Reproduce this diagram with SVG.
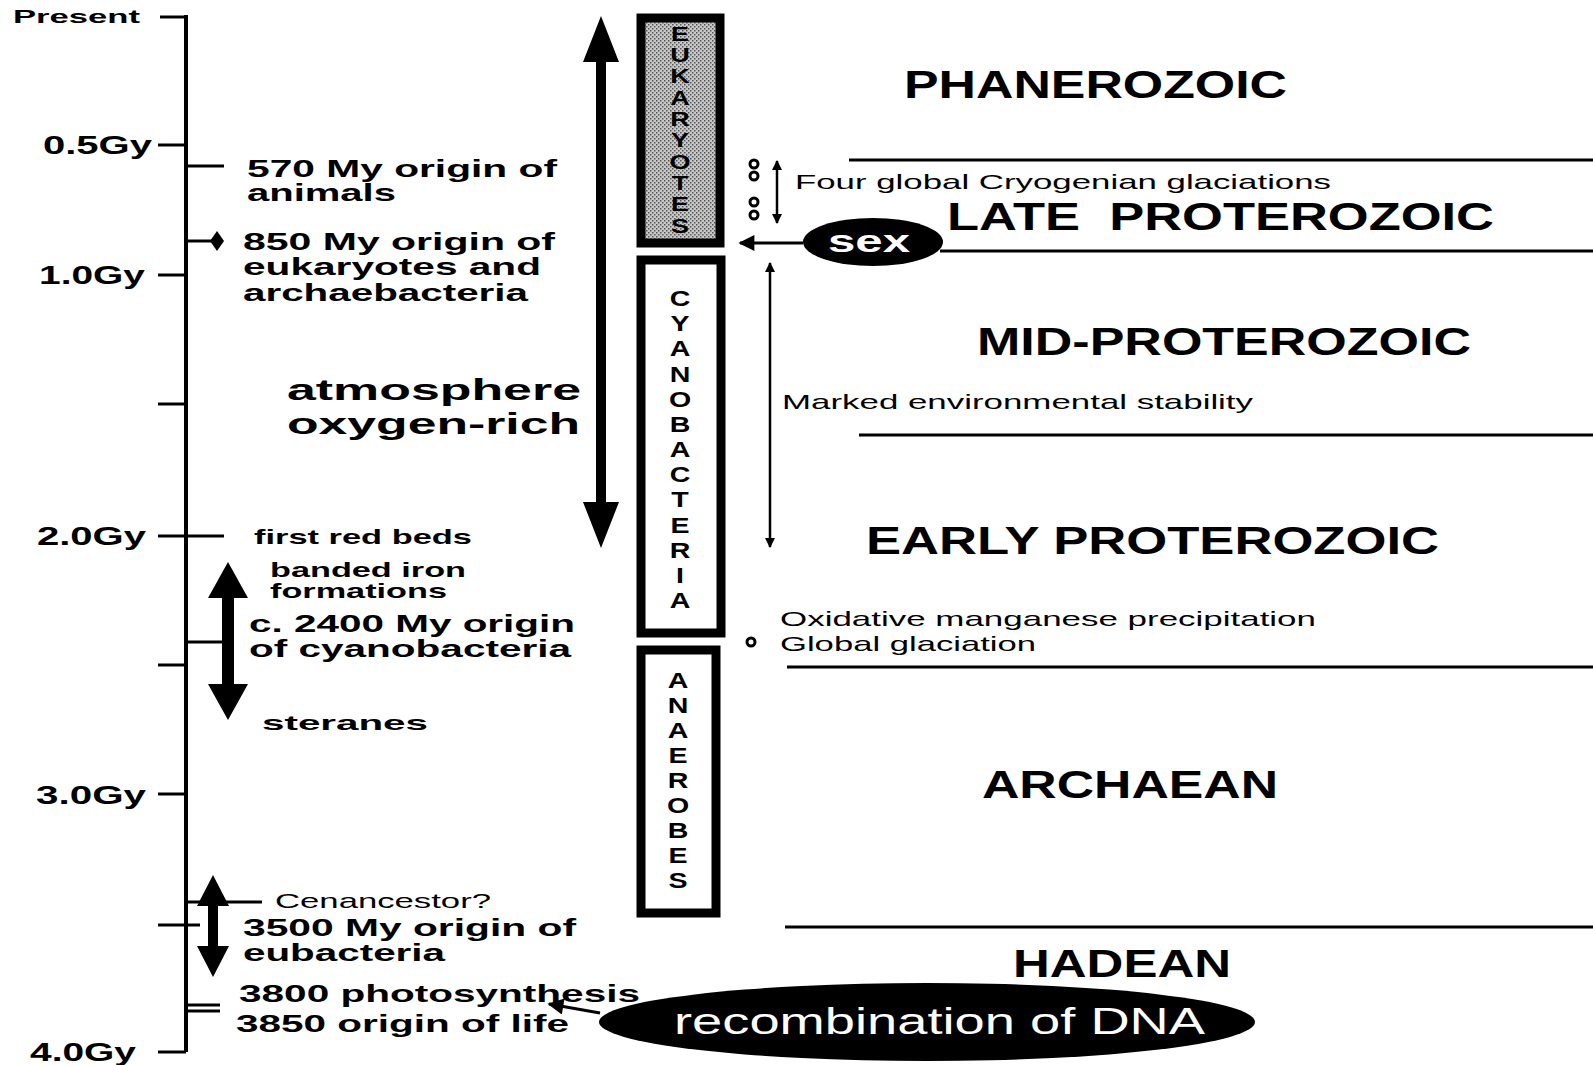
<svg xmlns="http://www.w3.org/2000/svg" width="1593" height="1065" viewBox="0 0 1593 1065">
<style>
.ln{stroke:#000;stroke-width:3;fill:none}
.ax{stroke:#000;stroke-width:4;fill:none}
.b{font-family:"Liberation Sans",Arial,sans-serif;font-weight:bold;fill:#000}
.r{font-family:"Liberation Sans",Arial,sans-serif;fill:#000}
.w{font-family:"Liberation Sans",Arial,sans-serif;fill:#fff}
.era{font-size:38px}
.lab{font-size:24px}
.sm{font-size:21px}
.vl{font-size:22px;text-anchor:middle}
.ve{font-size:20px;text-anchor:middle}
.box{stroke:#000;stroke-width:9}
.dot{fill:#fff;stroke:#000;stroke-width:3}
</style>
<defs>
<marker id="ah" viewBox="0 0 10 10" refX="9" refY="5" markerWidth="10" markerHeight="10" markerUnits="userSpaceOnUse" orient="auto-start-reverse">
<path d="M0,0 L10,5 L0,10 z" fill="#000"/>
</marker>
<marker id="ahb" viewBox="0 0 10 10" refX="9" refY="5" markerWidth="18" markerHeight="16" markerUnits="userSpaceOnUse" orient="auto">
<path d="M0,0 L10,5 L0,10 z" fill="#000"/>
</marker>
<pattern id="stip" width="4" height="4" patternUnits="userSpaceOnUse">
<rect width="4" height="4" fill="#c8c8c8"/>
<rect x="0" y="0" width="1.5" height="1.5" fill="#555"/>
<rect x="2" y="2" width="1.5" height="1.5" fill="#555"/>
</pattern>
</defs>

<g id="timescale">
<line class="ax" x1="186" y1="15" x2="186" y2="1052"/>
<line class="ln" x1="160" y1="17" x2="186" y2="17"/>
<line class="ln" x1="158" y1="145" x2="186" y2="145"/>
<line class="ln" x1="158" y1="275" x2="186" y2="275"/>
<line class="ln" x1="158" y1="404" x2="186" y2="404"/>
<line class="ln" x1="158" y1="536" x2="224" y2="536"/>
<line class="ln" x1="158" y1="665" x2="186" y2="665"/>
<line class="ln" x1="158" y1="794" x2="186" y2="794"/>
<line class="ln" x1="158" y1="925" x2="200" y2="925"/>
<line class="ln" x1="158" y1="1052" x2="186" y2="1052"/>
<text class="b" x="13" y="23" font-size="19" textLength="127" lengthAdjust="spacingAndGlyphs">Present</text>
<text class="b" font-size="26" x="43" y="154" textLength="109" lengthAdjust="spacingAndGlyphs">0.5Gy</text>
<text class="b" font-size="26" x="39" y="284" textLength="106" lengthAdjust="spacingAndGlyphs">1.0Gy</text>
<text class="b" font-size="26" x="37" y="545" textLength="109" lengthAdjust="spacingAndGlyphs">2.0Gy</text>
<text class="b" font-size="26" x="36" y="804" textLength="110" lengthAdjust="spacingAndGlyphs">3.0Gy</text>
<text class="b" font-size="26" x="30" y="1061" textLength="106" lengthAdjust="spacingAndGlyphs">4.0Gy</text>
</g>

<g id="animals">
<line class="ln" x1="186" y1="166" x2="224" y2="166"/>
<text class="b lab" x="247" y="177" textLength="310" lengthAdjust="spacingAndGlyphs">570 My origin of</text>
<text class="b lab" x="247" y="201" textLength="149" lengthAdjust="spacingAndGlyphs">animals</text>
</g>

<g id="eukaryote-origin">
<line class="ln" x1="186" y1="241" x2="212" y2="241"/>
<polygon points="217,231 224,241 217,251 210,241" fill="#000"/>
<text class="b lab" x="243" y="250" textLength="312" lengthAdjust="spacingAndGlyphs">850 My origin of</text>
<text class="b lab" x="243" y="275" textLength="298" lengthAdjust="spacingAndGlyphs">eukaryotes and</text>
<text class="b lab" x="243" y="301" textLength="285" lengthAdjust="spacingAndGlyphs">archaebacteria</text>
</g>

<g id="oxygen">
<text class="b" font-size="30" x="287" y="400" textLength="294" lengthAdjust="spacingAndGlyphs">atmosphere</text>
<text class="b" font-size="30" x="287" y="434" textLength="293" lengthAdjust="spacingAndGlyphs">oxygen-rich</text>
<polygon points="601,16 619,62 606,62 606,502 619,502 601,548 583,502 596,502 596,62 583,62" fill="#000"/>
</g>

<g id="red-beds">
<text class="b sm" x="254" y="544" textLength="218" lengthAdjust="spacingAndGlyphs">first red beds</text>
</g>

<g id="cyano-origin">
<line class="ln" x1="186" y1="642" x2="222" y2="642"/>
<polygon points="228,562 248,598 234,598 234,684 248,684 228,720 208,684 222,684 222,598 208,598" fill="#000"/>
<text class="b sm" x="270" y="577" textLength="196" lengthAdjust="spacingAndGlyphs">banded iron</text>
<text class="b sm" x="270" y="598" textLength="177" lengthAdjust="spacingAndGlyphs">formations</text>
<text class="b lab" x="249" y="632" textLength="326" lengthAdjust="spacingAndGlyphs">c. 2400 My origin</text>
<text class="b lab" x="249" y="657" textLength="322" lengthAdjust="spacingAndGlyphs">of cyanobacteria</text>
<text class="b sm" x="262" y="730" textLength="166" lengthAdjust="spacingAndGlyphs">steranes</text>
</g>

<g id="eubacteria">
<line class="ln" x1="186" y1="902" x2="262" y2="902"/>
<polygon points="213,875 229,906 218,906 218,946 229,946 213,977 197,946 208,946 208,906 197,906" fill="#000"/>
<text class="r sm" x="275" y="908" textLength="216" lengthAdjust="spacingAndGlyphs">Cenancestor?</text>
<text class="b lab" x="243" y="936" textLength="333" lengthAdjust="spacingAndGlyphs">3500 My origin of</text>
<text class="b lab" x="243" y="961" textLength="202" lengthAdjust="spacingAndGlyphs">eubacteria</text>
</g>

<g id="origin-of-life">
<line class="ln" x1="186" y1="1005" x2="220" y2="1005"/>
<line class="ln" x1="186" y1="1011" x2="220" y2="1011"/>
<text class="b lab" x="239" y="1002" textLength="401" lengthAdjust="spacingAndGlyphs">3800 photosynthesis</text>
<text class="b lab" x="236" y="1032" textLength="333" lengthAdjust="spacingAndGlyphs">3850 origin of life</text>
</g>

<g id="eukaryotes-box">
<rect class="box" x="641" y="18" width="79" height="225" fill="url(#stip)"/>
<g transform="translate(680,0) scale(1.35,1)">
<text class="b ve" x="0" y="41">E</text>
<text class="b ve" x="0" y="62">U</text>
<text class="b ve" x="0" y="83">K</text>
<text class="b ve" x="0" y="105">A</text>
<text class="b ve" x="0" y="126">R</text>
<text class="b ve" x="0" y="147">Y</text>
<text class="b ve" x="0" y="169">O</text>
<text class="b ve" x="0" y="190">T</text>
<text class="b ve" x="0" y="211">E</text>
<text class="b ve" x="0" y="233">S</text>
</g>
</g>

<g id="cyanobacteria-box">
<rect class="box" x="641" y="260" width="80" height="373" fill="#fff"/>
<g transform="translate(680,0) scale(1.3,1)">
<text class="b vl" x="0" y="306">C</text>
<text class="b vl" x="0" y="331">Y</text>
<text class="b vl" x="0" y="356">A</text>
<text class="b vl" x="0" y="382">N</text>
<text class="b vl" x="0" y="407">O</text>
<text class="b vl" x="0" y="432">B</text>
<text class="b vl" x="0" y="457">A</text>
<text class="b vl" x="0" y="482">C</text>
<text class="b vl" x="0" y="507">T</text>
<text class="b vl" x="0" y="533">E</text>
<text class="b vl" x="0" y="558">R</text>
<text class="b vl" x="0" y="583">I</text>
<text class="b vl" x="0" y="608">A</text>
</g>
</g>

<g id="anaerobes-box">
<rect class="box" x="641" y="650" width="75" height="263" fill="#fff"/>
<g transform="translate(678,0) scale(1.3,1)">
<text class="b vl" x="0" y="688">A</text>
<text class="b vl" x="0" y="713">N</text>
<text class="b vl" x="0" y="738">A</text>
<text class="b vl" x="0" y="763">E</text>
<text class="b vl" x="0" y="788">R</text>
<text class="b vl" x="0" y="813">O</text>
<text class="b vl" x="0" y="838">B</text>
<text class="b vl" x="0" y="863">E</text>
<text class="b vl" x="0" y="888">S</text>
</g>
</g>

<g id="cryogenian">
<circle class="dot" cx="754" cy="164" r="4"/>
<circle class="dot" cx="754" cy="176" r="4"/>
<circle class="dot" cx="754" cy="202" r="4"/>
<circle class="dot" cx="754" cy="215" r="4"/>
<line x1="777" y1="161" x2="777" y2="223" stroke="#000" stroke-width="2.5" marker-start="url(#ah)" marker-end="url(#ah)"/>
<text class="r sm" x="795" y="189" textLength="536" lengthAdjust="spacingAndGlyphs">Four global Cryogenian glaciations</text>
</g>

<g id="sex">
<ellipse cx="873" cy="242" rx="70" ry="24" fill="#000"/>
<text class="w" font-size="32" font-weight="bold" x="828" y="252" textLength="82" lengthAdjust="spacingAndGlyphs">sex</text>
</g>

<g id="stability">
<line x1="770" y1="263" x2="770" y2="547" stroke="#000" stroke-width="2.5" marker-start="url(#ah)" marker-end="url(#ah)"/>
<text class="r sm" x="782" y="409" textLength="471" lengthAdjust="spacingAndGlyphs">Marked environmental stability</text>
</g>

<g id="manganese">
<circle class="dot" cx="751" cy="642" r="4"/>
<text class="r sm" x="780" y="626" textLength="536" lengthAdjust="spacingAndGlyphs">Oxidative manganese precipitation</text>
<text class="r sm" x="780" y="651" textLength="256" lengthAdjust="spacingAndGlyphs">Global glaciation</text>
</g>

<g id="dna">
<ellipse cx="927" cy="1022" rx="328" ry="39" fill="#000"/>
<text class="w" font-size="37" x="674" y="1034" textLength="531" lengthAdjust="spacingAndGlyphs">recombination of DNA</text>
</g>

<g id="eras">
<text class="b era" x="904" y="98" textLength="383" lengthAdjust="spacingAndGlyphs">PHANEROZOIC</text>
<text class="b era" x="947" y="230" textLength="547" lengthAdjust="spacingAndGlyphs" xml:space="preserve">LATE  PROTEROZOIC</text>
<text class="b era" x="977" y="355" textLength="494" lengthAdjust="spacingAndGlyphs">MID-PROTEROZOIC</text>
<text class="b era" x="866" y="554" textLength="573" lengthAdjust="spacingAndGlyphs">EARLY PROTEROZOIC</text>
<text class="b era" x="982" y="798" textLength="296" lengthAdjust="spacingAndGlyphs">ARCHAEAN</text>
<text class="b era" x="1013" y="977" textLength="218" lengthAdjust="spacingAndGlyphs">HADEAN</text>
</g>

<g id="connectors">
<line class="ln" x1="849" y1="160" x2="1593" y2="160"/>
<line class="ln" x1="940" y1="251" x2="1593" y2="251"/>
<line class="ln" x1="859" y1="435" x2="1593" y2="435"/>
<line class="ln" x1="787" y1="667" x2="1593" y2="667"/>
<line class="ln" x1="785" y1="927" x2="1593" y2="927"/>
<line x1="803" y1="243" x2="740" y2="243" stroke="#000" stroke-width="3" marker-end="url(#ahb)"/>
<line x1="600" y1="1013" x2="549" y2="1004" stroke="#000" stroke-width="3" marker-end="url(#ahb)"/>
</g>
</svg>
